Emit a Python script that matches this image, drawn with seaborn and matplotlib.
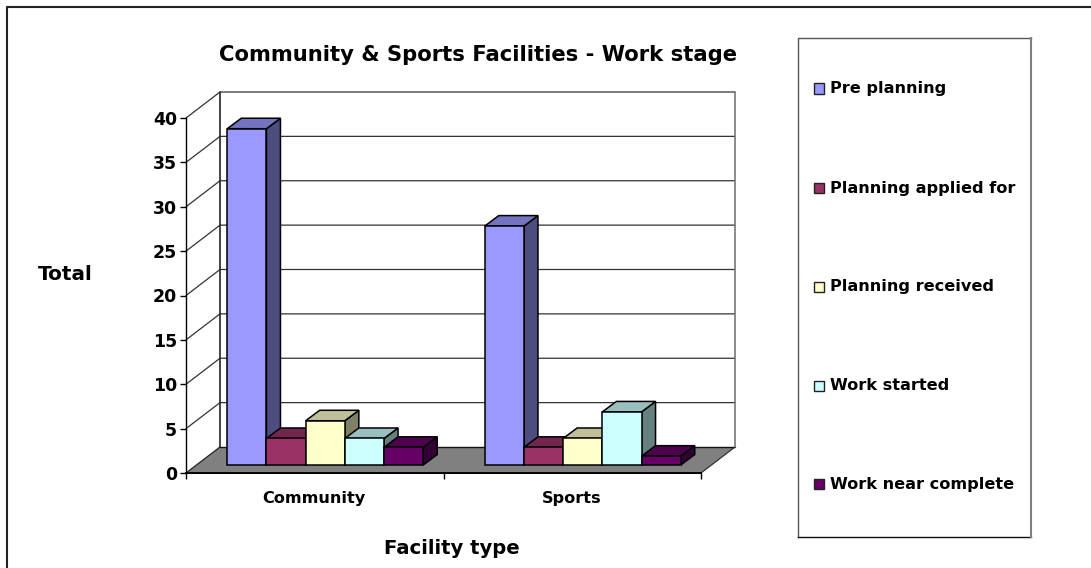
import matplotlib
matplotlib.use("Agg")
import matplotlib.pyplot as plt
import matplotlib.colors as mcolors
from matplotlib.patches import Rectangle
from matplotlib.lines import Line2D
import seaborn as sns
import pandas as pd

facility_types = ["Community", "Sports"]
stages = ["Pre planning", "Planning applied for", "Planning received", "Work started", "Work near complete"]
pre_planning = [38, 27]
planning_applied = [3, 2]
planning_received = [5, 3]
work_started = [3, 6]
work_near_complete = [2, 1]
colours = ["#9999FF", "#993366", "#FFFFCC", "#CCFFFF", "#660066"]
y_ticks = [0, 5, 10, 15, 20, 25, 30, 35, 40]

W, H = 1091, 568
sns.set_theme(style="white")
plt.rcParams["font.family"] = ["DejaVu Sans"]
plt.rcParams["font.weight"] = "bold"

df = pd.DataFrame({"type": facility_types, stages[0]: pre_planning, stages[1]: planning_applied,
                   stages[2]: planning_received, stages[3]: work_started, stages[4]: work_near_complete})
df = df.melt(id_vars="type", var_name="stage", value_name="total")


def axes_px(fig, left, right, top, bottom):
    return fig.add_axes([left / W, 1 - bottom / H, (right - left) / W, (bottom - top) / H])


def fig_line(fig, xs, ys, color, lw):
    fig.add_artist(Line2D([x / W for x in xs], [1 - y / H for y in ys], transform=fig.transFigure,
                          color=color, linewidth=lw, solid_capstyle="projecting"))


fig = plt.figure(figsize=(W / 100, H / 100), dpi=100)
fig.patch.set_facecolor("white")

# outer chart border runs off the top right and bottom of the picture
fig_line(fig, [7, 7, W + 5], [H + 5, 7, 7], "#222222", 1.5)

# front plane of the box carries the axis, bars sit a bit further back
ax = axes_px(fig, 186, 701, 118, 473)
ax_bars = axes_px(fig, 196.5, 711.5, 111, 465)

ax.set_xlim(-0.5, 1.5)
ax.set_ylim(0, 40)
ax.patch.set_alpha(0)
px_x = 2 / 515
px_y = 40 / 355

# depth of the box and depth of one bar, in pixels
box_dx, box_dy = 34 * px_x, 26 * px_y
bar_dx, bar_dy = 14 * px_x, 10.5 * px_y

x0, x1 = -0.5, 1.5
ax.fill([x0, x1, x1 + box_dx, x0 + box_dx], [0, 0, box_dy, box_dy], color="#808080", lw=0, clip_on=False, zorder=1)
ax.plot([x1, x1 + box_dx], [0, box_dy], color="#333333", lw=0.9, clip_on=False, zorder=1.5)
ax.plot([x0, x0 + box_dx], [0, box_dy], color="#222222", lw=0.9, clip_on=False, zorder=1.5)
ax.plot([x0 + box_dx, x1 + box_dx], [box_dy, box_dy], color="#111111", lw=1.0, clip_on=False, zorder=1.5)
for t in y_ticks[1:]:
    ax.plot([x0, x0 + box_dx, x1 + box_dx], [t, t + box_dy, t + box_dy], color="#333333", lw=0.9,
            clip_on=False, zorder=1)
ax.plot([x0 + box_dx, x0 + box_dx], [box_dy, 40 + box_dy], color="#222222", lw=1.2, clip_on=False, zorder=1.5)
ax.plot([x1 + box_dx, x1 + box_dx], [box_dy, 40 + box_dy], color="#777777", lw=1.2, clip_on=False, zorder=1.5)

ax.set_xticks([-0.5, 0.5, 1.5])
ax.set_xticklabels([])
ax.set_yticks(y_ticks)
ax.tick_params(axis="both", direction="out", length=4, width=1, color="black", left=True, bottom=True)
ax.tick_params(axis="y", labelsize=12.5, pad=2.5, labelcolor="black")
for s in ["top", "right"]:
    ax.spines[s].set_visible(False)
for s in ["left", "bottom"]:
    ax.spines[s].set_color("black")
ax.spines["left"].set_linewidth(1.0)
ax.spines["bottom"].set_linewidth(1.4)
for i, name in enumerate(facility_types):
    ax.text(i - 0.004, -2.9, name, ha="center", va="center", fontsize=11.6, color="black")
ax.set_xlabel("")
ax.set_ylabel("")

# bars through seaborn, then the side and top faces from each bar's own geometry
sns.barplot(data=df, x="type", y="total", hue="stage", hue_order=stages, palette=colours, saturation=1,
            width=0.761, gap=0, dodge=True, edgecolor="black", linewidth=1.1, legend=False, ax=ax_bars)
ax_bars.set_xlim(-0.5, 1.5)
ax_bars.set_ylim(0, 40)
ax_bars.axis("off")
ax_bars.patch.set_alpha(0)

# painted left to right: each bar hides the side of the one before it
bars = [p for p in ax_bars.patches if p.get_height() > 0]
bars.sort(key=lambda p: p.get_x())
for n, p in enumerate(bars):
    bx0, bx1, top = p.get_x(), p.get_x() + p.get_width(), p.get_height()
    rgb = mcolors.to_rgb(p.get_facecolor())
    side = tuple(c * 0.5 for c in rgb)
    upper = tuple(c * 0.75 for c in rgb)
    z = 2 + n * 0.1
    ax_bars.fill([bx1, bx1 + bar_dx, bx1 + bar_dx, bx1], [0, bar_dy, top + bar_dy, top], fc=side, ec="black",
                 lw=1.1, clip_on=False, zorder=z)
    ax_bars.fill([bx0, bx1, bx1 + bar_dx, bx0 + bar_dx], [top, top, top + bar_dy, top + bar_dy], fc=upper,
                 ec="black", lw=1.1, clip_on=False, zorder=z)
    p.set_zorder(z + 0.05)
    p.set_clip_on(False)

# titles
fig.text(478 / W, 1 - 55 / H, "Community & Sports Facilities - Work stage", ha="center", va="center",
         fontsize=15.2, color="black")
fig.text(65 / W, 1 - 274 / H, "Total", ha="center", va="center", fontsize=14.4, color="black")
fig.text(452 / W, 1 - 549 / H, "Facility type", ha="center", va="center", fontsize=14.1, color="black")

# legend box
fig_line(fig, [797.5, 797.5, 1031], [537, 38, 38], "#555555", 1)
fig_line(fig, [797.5, 1031], [536.5, 536.5], "#111111", 1)
fig_line(fig, [1031, 1031], [38, 537], "#808080", 1.5)
legend_y = [88.5, 188, 287, 386, 484]
for name, c, y in zip(stages, colours, legend_y):
    fig.add_artist(Rectangle((813.5 / W, 1 - (y + 5.25) / H), 10.5 / W, 10.5 / H, transform=fig.transFigure,
                             facecolor=c, edgecolor="#222222", linewidth=1))
    fig.text(830 / W, 1 - y / H, name, ha="left", va="center", fontsize=11.6, color="black")

fig.savefig("out.png", dpi=100)
